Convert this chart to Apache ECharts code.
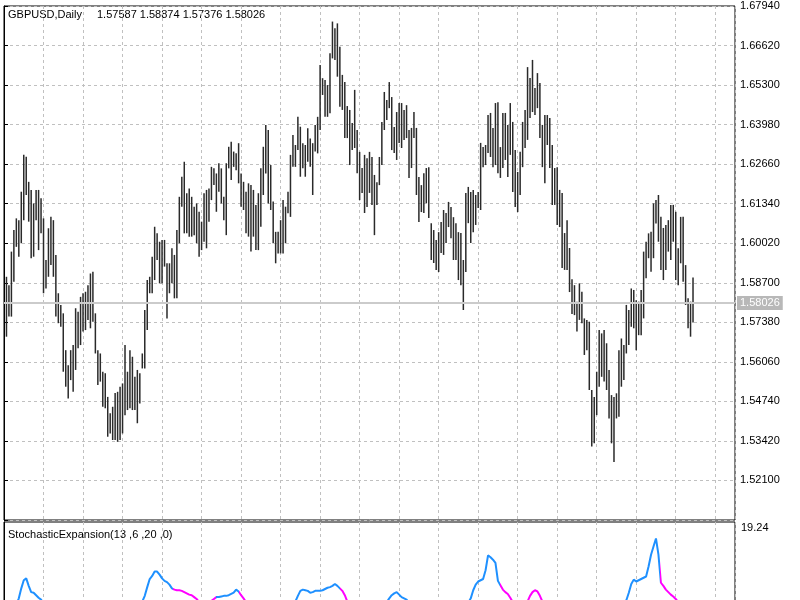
<!DOCTYPE html>
<html>
<head>
<meta charset="utf-8">
<script src="https://cdn.jsdelivr.net/npm/echarts@6/dist/echarts.min.js"></script>
<style>
  html, body { margin: 0; padding: 0; background: #fff; }
  #chart { width: 800px; height: 600px; }
</style>
</head>
<body>
<div id="chart"></div>
<script>
// GBPUSD daily bars, oldest first (high / low)
const highs = [
  1.5890, 1.5862, 1.5974, 1.6046, 1.6085, 1.6079, 1.6174, 1.6297, 1.6291, 1.6207,
  1.6180, 1.6135, 1.6180, 1.6180, 1.6152, 1.6085, 1.5946, 1.6052, 1.6090, 1.6079,
  1.5963, 1.5835, 1.5796, 1.5768, 1.5645, 1.5595, 1.5645, 1.5662, 1.5785, 1.5773,
  1.5823, 1.5835, 1.5840, 1.5862, 1.5901, 1.5907, 1.5768, 1.5645, 1.5634, 1.5573,
  1.5568, 1.5489, 1.5434, 1.5456, 1.5502, 1.5506, 1.5523, 1.5534, 1.5662, 1.5573,
  1.5645, 1.5623, 1.5556, 1.5579, 1.5568, 1.5634, 1.5779, 1.5879, 1.5890, 1.5957,
  1.6057, 1.6035, 1.6007, 1.6013, 1.6013, 1.5935, 1.5935, 1.5985, 1.5963, 1.6046,
  1.6157, 1.6224, 1.6274, 1.6169, 1.6185, 1.6157, 1.6124, 1.6135, 1.6107, 1.6074,
  1.6169, 1.6180, 1.6185, 1.6257, 1.6252, 1.6235, 1.6269, 1.6252, 1.6157, 1.6269,
  1.6324, 1.6341, 1.6308, 1.6302, 1.6336, 1.6235, 1.6207, 1.6174, 1.6202, 1.6196,
  1.6180, 1.6130, 1.6169, 1.6252, 1.6324, 1.6397, 1.6380, 1.6263, 1.6141, 1.6040,
  1.6040, 1.6079, 1.6146, 1.6124, 1.6174, 1.6297, 1.6363, 1.6330, 1.6424, 1.6391,
  1.6336, 1.6330, 1.6386, 1.6352, 1.6336, 1.6397, 1.6424, 1.6597, 1.6553, 1.6547,
  1.6530, 1.6636, 1.6742, 1.6720, 1.6736, 1.6658, 1.6564, 1.6540, 1.6460, 1.6447,
  1.6403, 1.6514, 1.6380, 1.6307, 1.6253, 1.6297, 1.6286, 1.6307, 1.6290, 1.6230,
  1.6206, 1.6290, 1.6407, 1.6507, 1.6480, 1.6540, 1.6490, 1.6390, 1.6440, 1.6470,
  1.6470, 1.6447, 1.6463, 1.6380, 1.6387, 1.6440, 1.6387, 1.6223, 1.6196, 1.6236,
  1.6253, 1.6256, 1.6069, 1.6046, 1.6013, 1.6039, 1.6073, 1.6113, 1.6103, 1.6140,
  1.6123, 1.6089, 1.6069, 1.6039, 1.6036, 1.5946, 1.6170, 1.6190, 1.6173, 1.6180,
  1.6163, 1.6173, 1.6337, 1.6323, 1.6330, 1.6430, 1.6437, 1.6387, 1.6470, 1.6473,
  1.6323, 1.6437, 1.6437, 1.6397, 1.6470, 1.6407, 1.6313, 1.6240, 1.6307, 1.6407,
  1.6447, 1.6590, 1.6554, 1.6614, 1.6520, 1.6570, 1.6537, 1.6397, 1.6430, 1.6430,
  1.6420, 1.6330, 1.6253, 1.6256, 1.6180, 1.6170, 1.6036, 1.6079, 1.5986, 1.5882,
  1.5862, 1.5807, 1.5868, 1.5840, 1.5751, 1.5746, 1.5740, 1.5512, 1.5489, 1.5573,
  1.5712, 1.5701, 1.5712, 1.5668, 1.5579, 1.5495, 1.5489, 1.5501, 1.5645, 1.5684,
  1.5662, 1.5796, 1.5779, 1.5851, 1.5846, 1.5812, 1.5807, 1.5846, 1.5974, 1.6007,
  1.6035, 1.6040, 1.6135, 1.6146, 1.6163, 1.6090, 1.6053, 1.6063, 1.6079, 1.6130,
  1.6130, 1.6107, 1.5985, 1.6090, 1.6090, 1.5929, 1.5818, 1.5807, 1.58874
];
const lows = [
  1.5690, 1.5757, 1.5757, 1.5873, 1.5990, 1.5957, 1.6002, 1.6079, 1.6163, 1.6074,
  1.5952, 1.5957, 1.6079, 1.5979, 1.6035, 1.5835, 1.5851, 1.5890, 1.5929, 1.5890,
  1.5757, 1.5735, 1.5723, 1.5573, 1.5523, 1.5484, 1.5545, 1.5506, 1.5579, 1.5651,
  1.5662, 1.5707, 1.5712, 1.5746, 1.5718, 1.5740, 1.5634, 1.5529, 1.5540, 1.5456,
  1.5451, 1.5356, 1.5367, 1.5345, 1.5345, 1.5339, 1.5345, 1.5367, 1.5428, 1.5445,
  1.5451, 1.5445, 1.5445, 1.5401, 1.5467, 1.5584, 1.5584, 1.5712, 1.5835, 1.5835,
  1.5879, 1.5946, 1.5868, 1.5868, 1.5924, 1.5751, 1.5835, 1.5868, 1.5818, 1.5818,
  1.6002, 1.6124, 1.6035, 1.6035, 1.6024, 1.6024, 1.6029, 1.6002, 1.5957, 1.5979,
  1.6007, 1.5985, 1.6074, 1.6146, 1.6196, 1.6107, 1.6174, 1.6135, 1.6079, 1.6029,
  1.6252, 1.6213, 1.6257, 1.6246, 1.6202, 1.6124, 1.6113, 1.6035, 1.6024, 1.5974,
  1.6024, 1.5979, 1.5979, 1.6057, 1.6163, 1.6235, 1.6135, 1.6113, 1.6002, 1.5935,
  1.5968, 1.5968, 1.5968, 1.6002, 1.6102, 1.6090, 1.6257, 1.6257, 1.6313, 1.6224,
  1.6252, 1.6224, 1.6274, 1.6257, 1.6163, 1.6308, 1.6302, 1.6380, 1.6497, 1.6424,
  1.6424, 1.6436, 1.6619, 1.6614, 1.6558, 1.6458, 1.6447, 1.6353, 1.6353, 1.6263,
  1.6313, 1.6320, 1.6236, 1.6146, 1.6170, 1.6103, 1.6123, 1.6170, 1.6130, 1.6029,
  1.6130, 1.6196, 1.6263, 1.6380, 1.6413, 1.6453, 1.6313, 1.6303, 1.6280, 1.6337,
  1.6320, 1.6347, 1.6353, 1.6220, 1.6253, 1.6353, 1.6163, 1.6073, 1.6106, 1.6103,
  1.6136, 1.6086, 1.5946, 1.5936, 1.5913, 1.5906, 1.5969, 1.5963, 1.6003, 1.6056,
  1.6019, 1.5946, 1.5946, 1.5879, 1.5862, 1.5779, 1.5906, 1.6069, 1.6003, 1.6039,
  1.6063, 1.6120, 1.6113, 1.6256, 1.6263, 1.6303, 1.6290, 1.6256, 1.6263, 1.6236,
  1.6220, 1.6253, 1.6280, 1.6223, 1.6297, 1.6173, 1.6123, 1.6106, 1.6163, 1.6256,
  1.6320, 1.6347, 1.6420, 1.6440, 1.6430, 1.6453, 1.6353, 1.6256, 1.6202, 1.6330,
  1.6253, 1.6130, 1.6130, 1.6063, 1.6056, 1.5919, 1.5913, 1.5913, 1.5839, 1.5766,
  1.5762, 1.5707, 1.5746, 1.5735, 1.5629, 1.5645, 1.5512, 1.5323, 1.5334, 1.5428,
  1.5523, 1.5556, 1.5540, 1.5512, 1.5417, 1.5334, 1.5272, 1.5417, 1.5423, 1.5523,
  1.5545, 1.5634, 1.5662, 1.5723, 1.5718, 1.5645, 1.5695, 1.5695, 1.5751, 1.5885,
  1.5952, 1.5907, 1.5952, 1.6068, 1.6007, 1.5913, 1.5879, 1.5913, 1.5974, 1.5946,
  1.6007, 1.5879, 1.5862, 1.5935, 1.5873, 1.5796, 1.5718, 1.5690, 1.57376
];
const lastBar = [1.57587, 1.58874, 1.57376, 1.58026]; // open high low close

// StochasticExpansion: only the part above the window edge is visible
const stochStart = [4, 54, 82, 116, 153, 186, 210, 250];
const stochPieces = [
  [6.0, 7.0, 8.6, 9.9, 10.2, 9.0, 8.0, 7.9, 7.5, 7.1, 6.8, 6.2],
  [5.5, 6.5, 7.4, 8.8, 10.1, 10.6, 11.3, 11.3, 10.8, 10.2, 9.8, 9.6, 9.2, 8.6, 8.4, 8.3, 8.3, 8.2, 8.0, 7.8, 7.6, 7.5, 7.2, 6.9, 6.4, 5.8],
  [6.0, 6.6, 6.9, 7.2, 7.2, 7.3, 7.4, 7.4, 7.5, 7.7, 7.9, 8.4, 8.1, 7.5, 7.0, 6.4],
  [5.8, 6.5, 7.4, 8.2, 8.4, 8.3, 8.2, 7.9, 8.0, 8.2, 8.2, 8.2, 8.3, 8.5, 8.7, 8.8, 9.0, 9.3, 9.0, 8.6, 8.2, 7.5, 6.5, 5.8],
  [5.8, 6.4, 7.0, 7.5, 7.8, 8.0, 7.6, 7.2, 7.0, 6.8, 6.3],
  [5.8, 6.3, 7.0, 8.3, 9.2, 9.7, 9.9, 10.1, 11.5, 13.9, 13.6, 13.2, 12.7, 9.8, 9.1, 8.4, 8.0, 7.7, 7.1, 6.4, 5.8],
  [5.9, 6.5, 7.4, 8.0, 8.3, 8.1, 7.4, 6.5, 5.9],
  [5.8, 6.7, 7.9, 9.3, 10.0, 9.7, 9.9, 10.1, 10.3, 10.5, 12.1, 14.0, 15.3, 16.6, 14.0, 9.5, 9.0, 8.4, 8.0, 7.6, 7.3, 6.9, 6.4, 5.8]
];
// bar ranges where the line is magenta (falling phase)
const magentaRanges = [[67.3, 80], [82, 85], [94.3, 98], [135, 140], [199.8, 207], [209, 219], [264.6, 274]];

// price axis works in offset points so ticks land on the MT4 levels
const BASE = 1.5078, SCALE = 10000;
const toAxis = p => (p - BASE) * SCALE;

const bars = highs.map((h, i) => [i + 1, toAxis(lows[i]), toAxis(h)]);

const stochData = [];
stochStart.forEach((s, k) => {
  stochPieces[k].forEach((v, j) => stochData.push([s + j + 1, v]));
  stochData.push([s + stochPieces[k].length + 1, '-']);
});

const FONT = 'Liberation Sans';
const grid = { color: '#c0c0c0', type: [3, 3] };

const chart = echarts.init(document.getElementById('chart'));

chart.setOption({
  animation: false,
  backgroundColor: '#fff',
  textStyle: { fontFamily: FONT },
  grid: [
    { left: 4, right: 65, top: 6, height: 514, show: true, borderColor: '#000', borderWidth: 1, outerBoundsMode: 'none' },
    // indicator window runs past the bottom of the picture
    { left: 4, right: 65, top: 522, bottom: -42, show: true, borderColor: '#000', borderWidth: 1, outerBoundsMode: 'none' }
  ],
  xAxis: [0, 1].map(g => ({
    type: 'value', gridIndex: g, min: 0, max: 296, interval: 16,
    axisLine: { show: false }, axisTick: { show: false }, axisLabel: { show: false },
    splitLine: { show: true, lineStyle: grid }
  })),
  yAxis: [
    {
      type: 'value', gridIndex: 0, position: 'right', min: 0, max: 1716, interval: 132,
      axisLine: { show: true, lineStyle: { color: '#000' } },
      axisTick: { show: true, length: 4, lineStyle: { color: '#000' } },
      axisLabel: {
        margin: 5, color: '#000', fontSize: 11, fontFamily: FONT,
        formatter: v => v < 1 ? '' : (BASE + v / SCALE).toFixed(5)
      },
      splitLine: { show: true, lineStyle: grid }
    },
    {
      type: 'value', gridIndex: 1, position: 'right', min: 0, max: 19.24, interval: 19.24,
      axisLine: { show: true, lineStyle: { color: '#000' } },
      axisTick: { show: false },
      axisLabel: {
        margin: 6, color: '#000', fontSize: 11, fontFamily: FONT, verticalAlign: 'top',
        formatter: v => v > 0 ? v.toFixed(2) : ''
      },
      splitLine: { show: false }
    }
  ],
  visualMap: [{
    type: 'piecewise', show: false, seriesIndex: 2, dimension: 0,
    pieces: magentaRanges.map(r => ({ gte: r[0] + 1, lte: r[1] + 1, color: '#ff00ff' })),
    outOfRange: { color: '#1e90ff' }
  }],
  graphic: [
    { type: 'text', left: 8, top: 9, style: { text: 'GBPUSD,Daily', fill: '#000', fontSize: 11, fontFamily: FONT } },
    { type: 'text', left: 97, top: 9, style: { text: lastBar.map(v => v.toFixed(5)).join(' '), fill: '#000', fontSize: 11, fontFamily: FONT } },
    { type: 'text', left: 8, top: 529, style: { text: 'StochasticExpansion(13 ,6 ,20 ,0)', fill: '#000', fontSize: 11, fontFamily: FONT } }
  ],
  series: [
    {
      // holder for the current price line, kept under the bars
      type: 'line', xAxisIndex: 0, yAxisIndex: 0, data: [], z: 1,
      markLine: {
        silent: true, symbol: 'none',
        lineStyle: { color: '#cbcbcb', width: 2, type: 'solid' },
        label: {
          show: true, position: 'end', distance: 2,
          formatter: lastBar[3].toFixed(5),
          color: '#fff', backgroundColor: '#b8b8b8', padding: [2, 3, 1, 3],
          fontSize: 11, fontFamily: FONT
        },
        data: [{ yAxis: toAxis(lastBar[3]) }]
      }
    },
    {
      type: 'custom', xAxisIndex: 0, yAxisIndex: 0, z: 2,
      encode: { x: 0, y: [1, 2] },
      data: bars,
      renderItem: (params, api) => {
        const x = api.value(0);
        const lo = api.coord([x, api.value(1)]);
        const hi = api.coord([x, api.value(2)]);
        return {
          type: 'line',
          shape: { x1: lo[0], y1: lo[1], x2: hi[0], y2: hi[1] },
          style: { stroke: '#2a2a2a', lineWidth: 1.5 }
        };
      }
    },
    {
      type: 'line', xAxisIndex: 1, yAxisIndex: 1, data: stochData,
      showSymbol: false, connectNulls: false,
      lineStyle: { width: 2 }
    }
  ]
});

window.addEventListener('resize', () => chart.resize());
</script>
</body>
</html>
